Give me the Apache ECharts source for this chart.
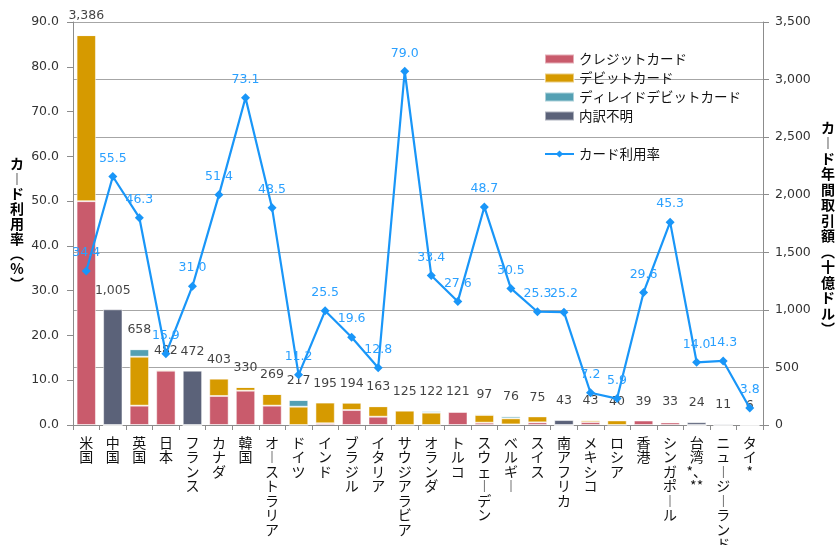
<!DOCTYPE html>
<html>
<head>
<meta charset="utf-8">
<script src="https://cdn.jsdelivr.net/npm/echarts@6/dist/echarts.min.js"></script>
<style>
  html, body { margin: 0; padding: 0; background: #fff; }
  #chart { width: 836px; height: 545px; }
</style>
</head>
<body>
<div id="chart"></div>
<script>
// Countries / regions on the category axis
const categories = ['米国','中国','英国','日本','フランス','カナダ','韓国','オーストラリア','ドイツ','インド','ブラジル','イタリア','サウジアラビア','オランダ','トルコ','スウェーデン','ベルギー','スイス','南アフリカ','メキシコ','ロシア','香港','シンガポール','台湾*、**','ニュージーランド*','タイ*'];

// Annual card transaction value (billion USD), split by card type
const creditCard   = [1944, 0, 168, 472, 0, 252, 298, 168, 0, 15, 130, 72, 0, 0, 113, 20, 5, 23, 0, 25, 0, 39, 22, 0, 0, 0];
const debitCard    = [1442, 0, 425, 10, 0, 151, 32, 101, 159, 180, 64, 91, 125, 107, 8, 67, 53, 52, 0, 18, 40, 0, 11, 0, 0, 0];
const deferredCard = [0, 0, 65, 0, 0, 0, 0, 0, 58, 0, 0, 0, 0, 15, 0, 10, 18, 0, 0, 0, 0, 0, 0, 0, 0, 0];
const unknownSplit = [0, 1005, 0, 0, 472, 0, 0, 0, 0, 0, 0, 0, 0, 0, 0, 0, 0, 0, 43, 0, 0, 0, 0, 24, 11, 6];

// Card usage rate (%)
const usageRate = [34.4, 55.5, 46.3, 15.9, 31.0, 51.4, 73.1, 48.5, 11.2, 25.5, 19.6, 12.8, 79.0, 33.4, 27.6, 48.7, 30.5, 25.3, 25.2, 7.2, 5.9, 29.6, 45.3, 14.0, 14.3, 3.8];

// Axis ticks
const leftTicks = { min: 0, max: 90, interval: 10 };
const rightTicks = { min: 0, max: 3500, interval: 500 };

const totals = categories.map((_, i) => creditCard[i] + debitCard[i] + deferredCard[i] + unknownSplit[i]);

// Stack text vertically (one glyph per row, vertical forms for dashes / brackets)
const VERT = { 'ー': '︱', '（': '︵', '）': '︶' };
function toVertical(s) {
  const rows = [];
  for (const ch of s) {
    const c = VERT[ch] || ch;
    const prev = rows[rows.length - 1];
    if (ch === '、' && prev !== undefined) rows[rows.length - 1] += c;
    else if (ch === '*' && prev && prev.endsWith('*')) rows[rows.length - 1] += c;
    else rows.push(c);
  }
  return rows.join('\n');
}

const NUM_FONT = 'DejaVu Sans';
const JP_FONT = '"Noto Sans CJK JP", "Noto Sans", sans-serif';
const LINE_BLUE = '#1996f8';
const LABEL_BLUE = '#2aa0ff';
const AXIS_GRAY = '#8c8c8c';
const barBorder = { borderColor: 'rgba(255,255,255,0.5)', borderWidth: 1 };

const chart = echarts.init(document.getElementById('chart'), null, { renderer: 'canvas' });

chart.setOption({
  animation: false,
  backgroundColor: '#ffffff',
  grid: { left: 73, right: 73, top: 22, bottom: 120, containLabel: false, outerBoundsMode: 'none' },
  legend: [
    {
      data: ['クレジットカード', 'デビットカード', 'ディレイドデビットカード', '内訳不明'],
      orient: 'vertical', left: 544, top: 52, padding: 0,
      itemWidth: 29, itemHeight: 9, itemGap: 5,
      icon: 'rect',
      textStyle: { fontFamily: JP_FONT, fontSize: 13.5, color: '#111', lineHeight: 14 }
    },
    {
      data: ['カード利用率'],
      orient: 'vertical', left: 544, top: 147, padding: 0,
      itemWidth: 29, itemHeight: 9,
      textStyle: { fontFamily: JP_FONT, fontSize: 13.5, color: '#111', lineHeight: 14 }
    }
  ],
  xAxis: {
    type: 'category',
    data: categories,
    axisLine: { lineStyle: { color: AXIS_GRAY } },
    axisTick: { show: true, length: 5, lineStyle: { color: AXIS_GRAY } },
    axisLabel: {
      interval: 0, margin: 10,
      fontFamily: JP_FONT, fontSize: 14, lineHeight: 14.5, color: '#111',
      verticalAlign: 'top',
      formatter: v => toVertical(v)
    }
  },
  yAxis: [
    {
      type: 'value', position: 'left',
      min: leftTicks.min, max: leftTicks.max, interval: leftTicks.interval,
      axisLine: { show: true, lineStyle: { color: AXIS_GRAY } },
      axisTick: { show: true, length: 6, lineStyle: { color: AXIS_GRAY } },
      splitLine: { show: false },
      axisLabel: { margin: 14, fontFamily: NUM_FONT, fontSize: 12.5, color: '#333', formatter: v => v.toFixed(1) }
    },
    {
      type: 'value', position: 'right',
      min: rightTicks.min, max: rightTicks.max, interval: rightTicks.interval,
      axisLine: { show: true, lineStyle: { color: AXIS_GRAY } },
      axisTick: { show: true, length: 6, lineStyle: { color: AXIS_GRAY } },
      splitLine: { show: true, lineStyle: { color: '#a6a6a6', width: 1 } },
      axisLabel: { margin: 12, fontFamily: NUM_FONT, fontSize: 12.5, color: '#333', formatter: v => v.toLocaleString('en-US') }
    }
  ],
  graphic: [
    {
      type: 'text', x: 17, y: 224,
      style: {
        text: toVertical('カード利用率（%）'),
        x: 0, y: 0, align: 'center', verticalAlign: 'middle',
        font: 'bold 14px ' + JP_FONT, lineHeight: 15, fill: '#000'
      }
    },
    {
      type: 'text', x: 828, y: 228,
      style: {
        text: toVertical('カード年間取引額（十億ドル）'),
        x: 0, y: 0, align: 'center', verticalAlign: 'middle',
        font: 'bold 14px ' + JP_FONT, lineHeight: 15.5, fill: '#000'
      }
    }
  ],
  series: [
    {
      name: 'クレジットカード', type: 'bar', stack: 'amount', yAxisIndex: 1,
      data: creditCard, barCategoryGap: '27%',
      itemStyle: Object.assign({ color: '#c95b6c' }, barBorder)
    },
    {
      name: 'デビットカード', type: 'bar', stack: 'amount', yAxisIndex: 1,
      data: debitCard,
      itemStyle: Object.assign({ color: '#d69a00' }, barBorder)
    },
    {
      name: 'ディレイドデビットカード', type: 'bar', stack: 'amount', yAxisIndex: 1,
      data: deferredCard,
      itemStyle: Object.assign({ color: '#54a0b3' }, barBorder)
    },
    {
      name: '内訳不明', type: 'bar', stack: 'amount', yAxisIndex: 1,
      data: unknownSplit,
      itemStyle: Object.assign({ color: '#5b6279' }, barBorder)
    },
    {
      // total value labels above each stacked bar
      name: '合計', type: 'scatter', yAxisIndex: 1,
      data: totals, symbolSize: 1,
      itemStyle: { color: 'rgba(0,0,0,0)' },
      silent: true, z: 4,
      label: {
        show: true, position: 'top', distance: 12,
        fontFamily: NUM_FONT, fontSize: 12.5, color: '#111',
        formatter: p => p.value.toLocaleString('en-US')
      }
    },
    {
      name: 'カード利用率', type: 'line', yAxisIndex: 0,
      data: usageRate,
      symbol: 'diamond', symbolSize: 9,
      lineStyle: { color: LINE_BLUE, width: 2.2 },
      itemStyle: { color: LINE_BLUE },
      z: 5,
      label: {
        show: true, position: 'top', distance: 7,
        fontFamily: NUM_FONT, fontSize: 12.5, color: LABEL_BLUE,
        formatter: p => p.value.toFixed(1)
      }
    }
  ]
});
</script>
</body>
</html>
